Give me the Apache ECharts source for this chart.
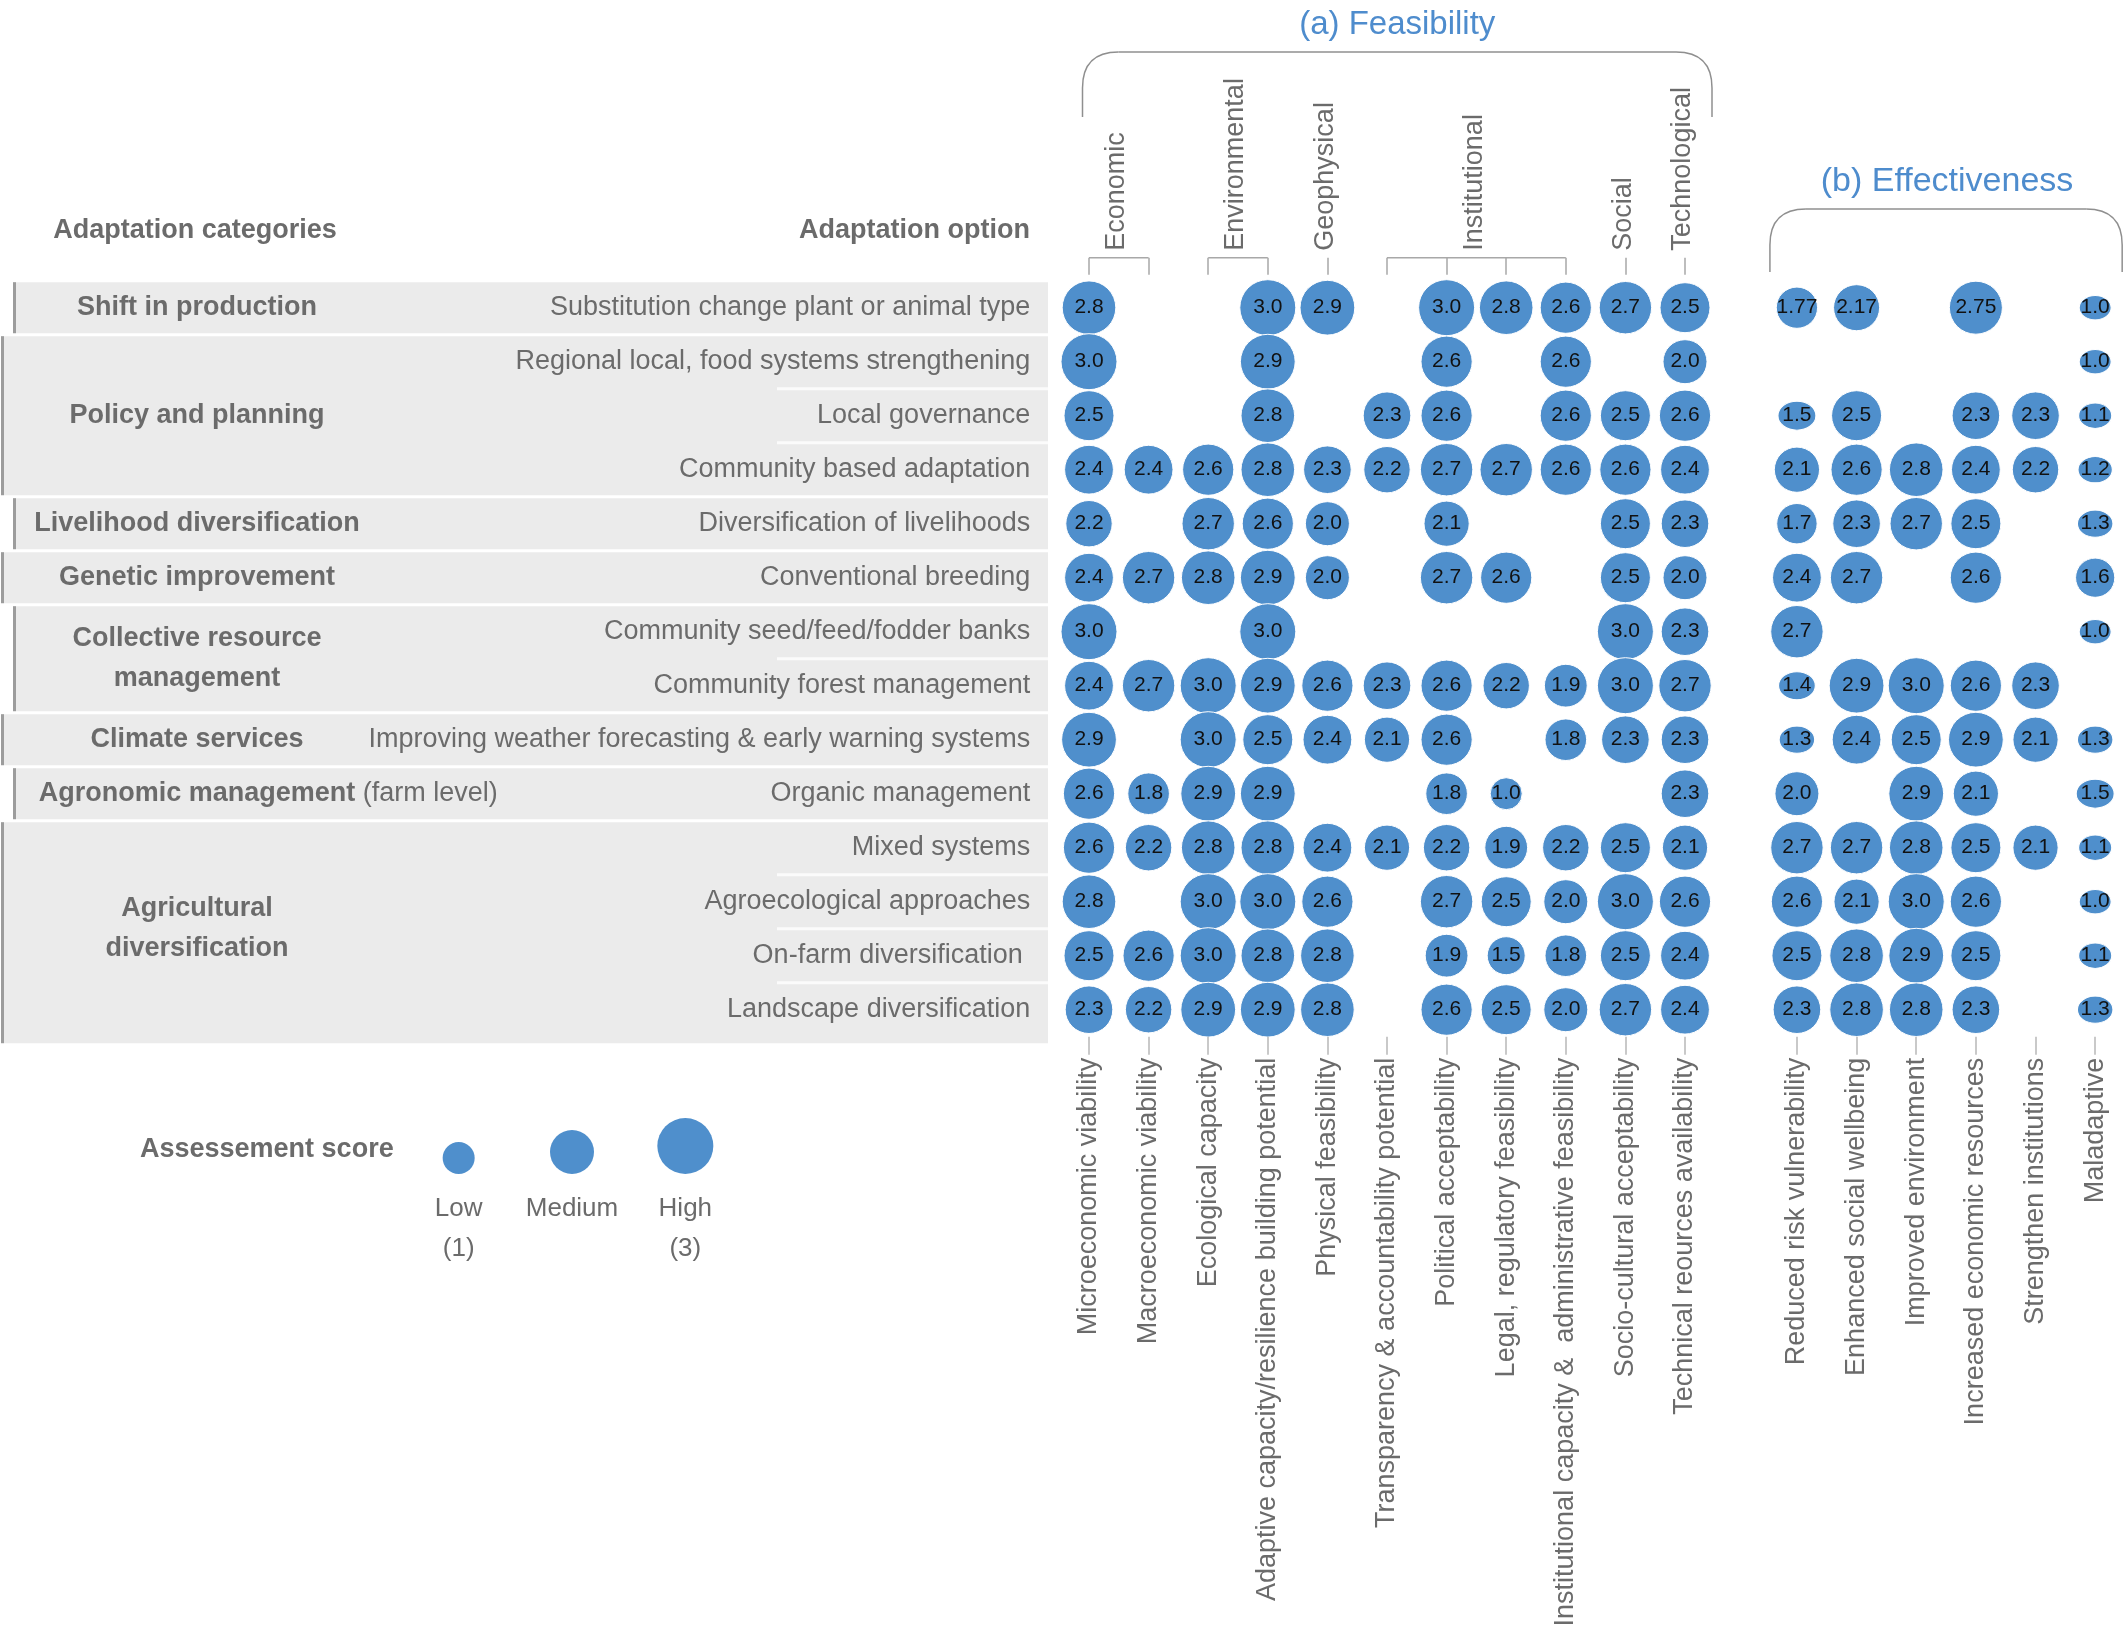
<!DOCTYPE html>
<html><head><meta charset="utf-8">
<script src="https://cdn.jsdelivr.net/npm/echarts@6/dist/echarts.min.js"></script>
<style>html,body{margin:0;padding:0;background:#fff}#c{width:2125px;height:1633px}</style>
</head><body><div id="c"></div>
<script>
// ---------------- DATA ----------------
const categoryNames = ['Shift in production','Policy and planning','Livelihood diversification','Genetic improvement','Collective resource\nmanagement','Climate services','Agronomic management','Agricultural\ndiversification'];
const categorySuffix = ['', '', '', '', '', '', ' (farm level)', ''];
const categoryRowCounts = [1, 3, 1, 1, 2, 1, 1, 4];
const options = ['Substitution change plant or animal type','Regional local, food systems strengthening','Local governance','Community based adaptation','Diversification of livelihoods','Conventional breeding','Community seed/feed/fodder banks','Community forest management','Improving weather forecasting & early warning systems','Organic management','Mixed systems','Agroecological approaches','On-farm diversification ','Landscape diversification'];
const feasCols = ['Microeconomic viability','Macroeconomic viability','Ecological capacity','Adaptive capacity/resilience building potential','Physical feasibility','Transparency & accountability potential','Political acceptability','Legal, regulatory feasibility','Institutional capacity &  administrative feasibility','Socio-cultural acceptability','Technical reources availability'];
const feasGroupNames = ['Economic','Environmental','Geophysical','Institutional','Social','Technological'];
const feasGroupFrom = [0, 2, 4, 5, 9, 10];
const feasGroupTo   = [1, 3, 4, 8, 9, 10];
const effCols = ['Reduced risk vulnerability','Enhanced social wellbeing','Improved environment','Increased economic resources','Strengthen institutions','Maladaptive'];
const feasibility = [
 [2.8,null,null,3.0,2.9,null,3.0,2.8,2.6,2.7,2.5],
 [3.0,null,null,2.9,null,null,2.6,null,2.6,null,2.0],
 [2.5,null,null,2.8,null,2.3,2.6,null,2.6,2.5,2.6],
 [2.4,2.4,2.6,2.8,2.3,2.2,2.7,2.7,2.6,2.6,2.4],
 [2.2,null,2.7,2.6,2.0,null,2.1,null,null,2.5,2.3],
 [2.4,2.7,2.8,2.9,2.0,null,2.7,2.6,null,2.5,2.0],
 [3.0,null,null,3.0,null,null,null,null,null,3.0,2.3],
 [2.4,2.7,3.0,2.9,2.6,2.3,2.6,2.2,1.9,3.0,2.7],
 [2.9,null,3.0,2.5,2.4,2.1,2.6,null,1.8,2.3,2.3],
 [2.6,1.8,2.9,2.9,null,null,1.8,1.0,null,null,2.3],
 [2.6,2.2,2.8,2.8,2.4,2.1,2.2,1.9,2.2,2.5,2.1],
 [2.8,null,3.0,3.0,2.6,null,2.7,2.5,2.0,3.0,2.6],
 [2.5,2.6,3.0,2.8,2.8,null,1.9,1.5,1.8,2.5,2.4],
 [2.3,2.2,2.9,2.9,2.8,null,2.6,2.5,2.0,2.7,2.4]
];
const effectiveness = [
 [1.77,2.17,null,2.75,null,1.0],
 [null,null,null,null,null,1.0],
 [1.5,2.5,null,2.3,2.3,1.1],
 [2.1,2.6,2.8,2.4,2.2,1.2],
 [1.7,2.3,2.7,2.5,null,1.3],
 [2.4,2.7,null,2.6,null,1.6],
 [2.7,null,null,null,null,1.0],
 [1.4,2.9,3.0,2.6,2.3,null],
 [1.3,2.4,2.5,2.9,2.1,1.3],
 [2.0,null,2.9,2.1,null,1.5],
 [2.7,2.7,2.8,2.5,2.1,1.1],
 [2.6,2.1,3.0,2.6,null,1.0],
 [2.5,2.8,2.9,2.5,null,1.1],
 [2.3,2.8,2.8,2.3,null,1.3]
];
const legendLabels = ['Low\n(1)', 'Medium', 'High\n(3)'];
const legendValues = [1, 2, 3];

// ---------------- STYLE ----------------
function hasFont(name){
  const c = document.createElement('canvas').getContext('2d');
  const s = 'Microeconomic viability 0123456789';
  c.font = '40px monospace'; const a = c.measureText(s).width;
  c.font = '40px "' + name + '", monospace'; const b = c.measureText(s).width;
  return Math.abs(a - b) > 1;
}
const NARROW = hasFont('Liberation Sans Narrow');
const FF = NARROW ? '"Liberation Sans Narrow", "Liberation Sans", Arial, sans-serif' : '"Liberation Sans", Arial, sans-serif';
const K = NARROW ? 1 : 0.82;
const fs = n => Math.round(n * K);
const NUM_SIZE = NARROW ? 24 : 21;
const GREY = '#6b6b6b';
const BLUE = '#4F8FCC';
const TITLE_BLUE = '#4E8CCD';
const ROW_TOP = 280.7, ROW_H = 54;
const FEAS_LEFT = 1059.2, FEAS_STEP = 59.6;
const EFF_LEFT = 1767.1, EFF_STEP = 59.8;
const sizeOf = v => 20 + 12 * v;
const fmt = v => Number.isInteger(v) ? v.toFixed(1) : String(v);

function cells(matrix, cols){
  const out = [];
  matrix.forEach((row, i) => row.forEach((v, j) => { if (v != null) out.push([cols[j], options[i], v]); }));
  return out;
}
const numLabel = {show:true, position:'inside', formatter: p => fmt(p.value[2]), color:'#111', fontSize: NUM_SIZE, fontFamily: FF};
const bottomAxisLabel = {rotate:90, margin:21, color:GREY, fontSize: fs(33), fontFamily: FF, interval:0};
const bottomTick = {show:true, length:18, alignWithLabel:true, interval:0, lineStyle:{color:'#b8b8b8', width:1.5}};

const chart = echarts.init(document.getElementById('c'), null, {renderer:'canvas', width:2125, height:1633});
chart.setOption({
  animation:false,
  backgroundColor:'#fff',
  grid:[
    {left:FEAS_LEFT, top:ROW_TOP, width:FEAS_STEP*feasCols.length, height:ROW_H*options.length},
    {left:EFF_LEFT, top:ROW_TOP, width:EFF_STEP*effCols.length, height:ROW_H*options.length},
    {left:402, top:1161, width:340, height:26}
  ],
  xAxis:[
    {gridIndex:0, type:'category', data:feasCols, position:'bottom', z:5, axisLine:{show:false}, axisTick:bottomTick, axisLabel:bottomAxisLabel, splitLine:{show:false}},
    {gridIndex:0, type:'category', data:feasCols, position:'top', offset:6, z:5, axisLine:{show:false}, axisTick:{show:true, length:17, alignWithLabel:true, interval:0, lineStyle:{color:'#a8a8a8', width:1.5}}, axisLabel:{show:false}, splitLine:{show:false}},
    {gridIndex:1, type:'category', data:effCols, position:'bottom', z:5, axisLine:{show:false}, axisTick:bottomTick, axisLabel:bottomAxisLabel, splitLine:{show:false}},
    {gridIndex:2, type:'category', data:legendLabels, position:'bottom', axisLine:{show:false}, axisTick:{show:false}, axisLabel:{margin:2, color:GREY, fontSize: fs(32), lineHeight:40, fontFamily:FF, interval:0}, splitLine:{show:false}}
  ],
  yAxis:[
    {gridIndex:0, type:'category', data:options, inverse:true, z:5, axisLine:{show:false}, axisTick:{show:false}, axisLabel:{margin:29, color:GREY, fontSize: fs(33), fontFamily:FF, interval:0}, splitLine:{show:false}},
    {gridIndex:1, type:'category', data:options, inverse:true, axisLine:{show:false}, axisTick:{show:false}, axisLabel:{show:false}, splitLine:{show:false}},
    {gridIndex:2, type:'category', data:['score'], axisLine:{show:false}, axisTick:{show:false}, axisLabel:{show:false}, splitLine:{show:false}}
  ],
  series:[
    {type:'scatter', xAxisIndex:0, yAxisIndex:0, data:cells(feasibility, feasCols), symbol:'circle',
     symbolSize: val => sizeOf(val[2]), itemStyle:{color:BLUE, borderColor:'#fff', borderWidth:1, opacity:1}, label:numLabel, z:3},
    {type:'scatter', xAxisIndex:2, yAxisIndex:1, data:cells(effectiveness, effCols), symbol:'circle',
     symbolSize: val => { const d = sizeOf(val[2]); return val[2] <= 1.5 ? [d, d*0.76] : d; },
     itemStyle:{color:BLUE, borderColor:'#fff', borderWidth:1, opacity:1}, label:numLabel, z:3},
    {type:'scatter', xAxisIndex:3, yAxisIndex:2, symbol:'circle',
     data: legendValues.map((v, i) => ({value:[legendLabels[i], 'score', v], symbolOffset:[0, -sizeOf(v)/2]})),
     symbolSize: val => sizeOf(val[2]), itemStyle:{color:BLUE, opacity:1}, label:{show:false}, z:3}
  ]
});

// ---------------- DECORATION (computed from axes) ----------------
const yOf = name => chart.convertToPixel({yAxisIndex:0}, name);
const xF = name => chart.convertToPixel({xAxisIndex:0}, name);
const xE = name => chart.convertToPixel({xAxisIndex:2}, name);
const half = ROW_H / 2;
const g = [];
const mctx = document.createElement('canvas').getContext('2d');
function textW(str, font){ mctx.font = font; return mctx.measureText(str).width; }
function txt(text, x, y, opt){
  const o = Object.assign({size:33, weight:'normal', fill:GREY, align:'center', valign:'middle', lineHeight:40, rotation:0}, opt||{});
  return {type:'text', x:x, y:y, rotation:o.rotation, z:20, silent:true,
    style:{text:text, x:0, y:0, fill:o.fill, fontSize:fs(o.size), fontWeight:o.weight, fontFamily:FF,
      align:o.align, textAlign:o.align, verticalAlign:o.valign, textVerticalAlign:o.valign, lineHeight:o.lineHeight}};
}
function line(x1, y1, x2, y2, stroke, w, z){
  return {type:'line', silent:true, z:z||5, shape:{x1:x1, y1:y1, x2:x2, y2:y2}, style:{stroke:stroke, lineWidth:w}};
}

// bands
let start = 0;
categoryRowCounts.forEach((n, gi) => {
  const first = options[start], last = options[start + n - 1];
  const top = yOf(first) - half + 1.5;
  const bottom = yOf(last) + half - 1.5 + (gi === categoryRowCounts.length - 1 ? 8 : 0);
  const barX = gi % 2 === 0 ? 13 : 1;
  g.push({type:'rect', z:0, silent:true, shape:{x:barX, y:top, width:1048 - barX, height:bottom - top}, style:{fill:'#ebebeb'}});
  g.push({type:'rect', z:1, silent:true, shape:{x:barX, y:top, width:3, height:bottom - top}, style:{fill:'#9c9c9c'}});
  for (let r = start; r < start + n - 1; r++) {
    const yb = yOf(options[r]) + half;
    g.push(line(777, yb, 1048, yb, '#fbfbfb', 3, 1));
  }
  const cy = (yOf(first) + yOf(last)) / 2;
  if (categorySuffix[gi]) {
    const w = textW(categoryNames[gi], 'bold ' + fs(33) + 'px ' + FF);
    g.push({type:'text', x:197 - w/2, y:cy, z:20, silent:true, style:{
      text:'{b|' + categoryNames[gi] + '}{n|' + categorySuffix[gi] + '}', x:0, y:0, align:'left', textAlign:'left', verticalAlign:'middle', textVerticalAlign:'middle',
      rich:{b:{fontWeight:'bold', fontSize:fs(33), fontFamily:FF, fill:GREY, color:GREY}, n:{fontWeight:'normal', fontSize:fs(33), fontFamily:FF, fill:GREY, color:GREY}}}});
  } else {
    g.push(txt(categoryNames[gi], 197, cy, {weight:'bold'}));
  }
  start += n;
});

// headers
g.push(txt('Adaptation categories', 195, 231, {weight:'bold'}));
g.push(txt('Adaptation option', 1030, 231, {weight:'bold', align:'right'}));

// feasibility sub-group brackets & labels
const BR_Y = ROW_TOP - 6 - 17;
feasGroupNames.forEach((name, i) => {
  const x1 = xF(feasCols[feasGroupFrom[i]]), x2 = xF(feasCols[feasGroupTo[i]]);
  if (x2 > x1) g.push(line(x1, BR_Y, x2, BR_Y, '#a8a8a8', 1.5));
  g.push(txt(name, (x1 + x2) / 2 - 2, BR_Y - 7, {rotation:Math.PI/2, align:'left'}));
});

// big brackets (lines + rounded corners)
function bracket(x0, x1, yt, yb, r){
  const st = {stroke:'#8f8f8f', lineWidth:1.5, fill:null};
  return [
    line(x0, yb, x0, yt + r, '#8f8f8f', 1.5),
    {type:'bezierCurve', silent:true, z:5, shape:{x1:x0, y1:yt + r, x2:x0 + r, y2:yt, cpx1:x0, cpy1:yt}, style:st},
    line(x0 + r, yt, x1 - r, yt, '#8f8f8f', 1.5),
    {type:'bezierCurve', silent:true, z:5, shape:{x1:x1 - r, y1:yt, x2:x1, y2:yt + r, cpx1:x1, cpy1:yt}, style:st},
    line(x1, yt + r, x1, yb, '#8f8f8f', 1.5)
  ];
}
const fL = xF(feasCols[0]) - 6.5, fR = xF(feasCols[feasCols.length - 1]) + 27;
g.push(...bracket(fL, fR, 52, 117, 36));
g.push(txt('(a) Feasibility', (fL + fR) / 2, 25, {size:40, fill:TITLE_BLUE}));
const eL = xE(effCols[0]) - 27, eR = xE(effCols[effCols.length - 1]) + 27;
g.push(...bracket(eL, eR, 209, 272, 36));
g.push(txt('(b) Effectiveness', (eL + eR) / 2 + 1, 182, {size:41, fill:TITLE_BLUE}));

// legend title
g.push(txt('Assessement score', 140, 1150, {weight:'bold', align:'left'}));

chart.setOption({graphic:{elements:g}});
</script>
</body></html>
